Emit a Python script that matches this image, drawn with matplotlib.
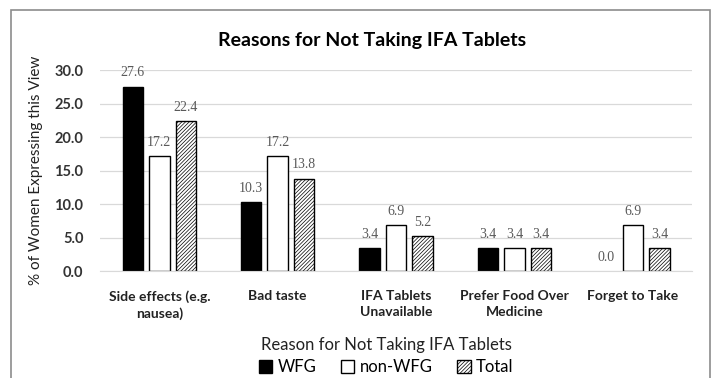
import numpy as np
import matplotlib
matplotlib.use("Agg")
from matplotlib import pyplot as plt
from matplotlib.patches import Rectangle

categories = ["Side effects (e.g.\nnausea)", "Bad taste", "IFA Tablets\nUnavailable",
              "Prefer Food Over\nMedicine", "Forget to Take"]
wfg = [27.6, 10.3, 3.4, 3.4, 0.0]
non_wfg = [17.2, 17.2, 6.9, 3.4, 6.9]
total = [22.4, 13.8, 5.2, 3.4, 3.4]
series_names = ["WFG", "non-WFG", "Total"]
yticks = [0, 5, 10, 15, 20, 25, 30]

plt.rcParams['font.family'] = ['Lato', 'DejaVu Sans']
plt.rcParams['hatch.linewidth'] = 0.5

fig = plt.figure(figsize=(7.15, 3.78), dpi=100)
ax = fig.add_axes([0.140, 0.283, 0.828, 0.5305])

x = np.arange(len(categories))
w = 0.173
step = 0.224
styles = [dict(color="black", edgecolor="black"),
          dict(color="white", edgecolor="black"),
          dict(color="white", edgecolor="black", hatch="/////////")]
bars = []
for i, (vals, st) in enumerate(zip([wfg, non_wfg, total], styles)):
    b = ax.bar(x + (i - 1) * step, vals, w, linewidth=1.0, label=series_names[i], **st)
    bars.append(b)
    for rect, v in zip(b, vals):
        if v == 0:
            rect.set_linewidth(0)
    for xi, v in zip(x + (i - 1) * step, vals):
        ax.text(xi, v + 1.1, "%.1f" % v, ha="center", va="bottom", fontsize=10,
                color="#595959", family="Liberation Serif")

ax.set_xlim(-0.5, len(categories) - 0.5)
ax.set_ylim(0, 30)
ax.set_yticks(yticks)
ax.set_yticklabels(["%.1f" % t for t in yticks], fontsize=10.5, fontweight="bold", color="#333333")
ax.set_xticks(x)
ax.set_xticklabels(categories, fontsize=10, fontweight="bold", color="#222222", linespacing=1.4)
ax.tick_params(length=0, axis="both")
ax.tick_params(axis="y", pad=12)
ax.tick_params(axis="x", pad=14)
ax.grid(axis="y", color="#d9d9d9", linewidth=0.9)
ax.set_axisbelow(True)
for s in ["top", "right", "left"]:
    ax.spines[s].set_visible(False)
ax.spines["bottom"].set_color("#d9d9d9")

ax.set_ylabel("% of Women Expressing this View", fontsize=11, color="#222222", labelpad=8)
fig.text(0.54, 0.087, "Reason for Not Taking IFA Tablets", ha="center", va="center", fontsize=12, color="#222222")
fig.text(0.52, 0.893, "Reasons for Not Taking IFA Tablets", ha="center", va="center", fontsize=14,
         fontweight="bold", color="black")

fig.legend(handles=bars, loc="center", bbox_to_anchor=(0.54, 0.028), ncol=3, frameon=False,
           fontsize=12, handlelength=0.8, handleheight=0.8, handletextpad=0.3, columnspacing=1.5,
           borderpad=0.1)

fig.patches.append(Rectangle((11 / 715, -0.05), 699 / 715, 1.05 - 10 / 378, transform=fig.transFigure,
                             fill=False, edgecolor="#8c8c8c", linewidth=1.2))

fig.savefig("out.png", dpi=100)
